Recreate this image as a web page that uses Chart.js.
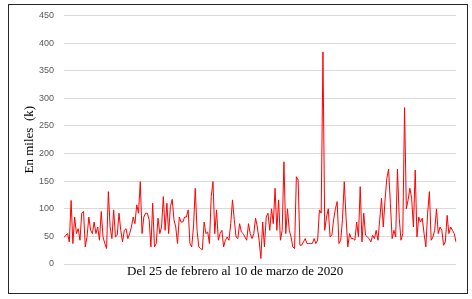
<!DOCTYPE html>
<html>
<head>
<meta charset="utf-8">
<script src="https://cdn.jsdelivr.net/npm/chart.js@4/dist/chart.umd.min.js"></script>
<style>
  body { margin: 0; background: #fff; }
  #wrap { position: relative; width: 472px; height: 299px; }
</style>
</head>
<body>
<div id="wrap"><canvas id="canvas1" width="472" height="299"></canvas></div>
<script>
// DONNEES (en miles, du 25 de febrero al 10 de marzo de 2020)
const valores = [
  48, 52, 55, 40, 115, 37, 85, 55, 64, 43, 92, 95, 31, 50, 85, 61, 55, 76, 55, 67,
  43, 95, 49, 37, 28, 131, 67, 46, 98, 49, 52, 92, 61, 40, 61, 64, 46, 55, 67, 85,
  73, 107, 92, 149, 55, 85, 92, 92, 80, 31, 110, 31, 37, 83, 55, 67, 122, 61, 110, 55,
  104, 117, 80, 67, 37, 85, 76, 76, 85, 85, 98, 37, 31, 67, 137, 61, 31, 28, 26, 76,
  55, 58, 37, 122, 149, 55, 98, 43, 55, 61, 31, 43, 49, 43, 73, 116, 80, 49, 46, 73,
  58, 55, 49, 43, 73, 55, 46, 55, 83, 67, 43, 10, 76, 31, 85, 92, 61, 100, 73, 137,
  61, 116, 43, 61, 185, 55, 100, 61, 49, 31, 28, 158, 152, 34, 34, 40, 46, 37, 37, 37,
  37, 46, 37, 43, 98, 92, 384, 61, 85, 100, 49, 52, 80, 100, 113, 37, 43, 80, 149, 85,
  31, 55, 46, 46, 43, 76, 49, 140, 40, 92, 52, 49, 46, 40, 52, 46, 61, 43, 80, 119,
  67, 116, 155, 172, 110, 46, 61, 49, 172, 83, 43, 55, 283, 100, 116, 137, 119, 67, 170, 49,
  85, 76, 83, 55, 31, 92, 131, 43, 49, 61, 100, 55, 67, 61, 34, 40, 88, 55, 67, 61,
  55, 40
];
const etiquetas = valores.map((v, i) => String(i + 1));
const ticksY = [0, 50, 100, 150, 200, 250, 300, 350, 400, 450];

const tituloY = 'En miles  (k)';
const tituloX = 'Del 25 de febrero al 10 de marzo de 2020';

// MARCO Y TITULO X
const marco = {
  id: 'marco',
  afterDraw(chart) {
    const ctx = chart.ctx;
    ctx.save();
    ctx.strokeStyle = '#262626';
    ctx.lineWidth = 1;
    ctx.strokeRect(8.5, 4.5, 459, 289);
    ctx.fillStyle = '#000';
    ctx.font = '13px "Liberation Serif", "DejaVu Serif", serif';
    ctx.textBaseline = 'middle';
    ctx.textAlign = 'left';
    ctx.fillText(tituloX, chart.chartArea.left + 63, chart.chartArea.bottom + 8);
    ctx.restore();
  }
};

let myChart1 = new Chart(document.getElementById('canvas1'), {
  type: 'line',
  data: {
    labels: etiquetas,
    datasets: [{
      data: valores,
      borderColor: '#ff0000',
      borderWidth: 1,
      pointRadius: 0,
      tension: 0,
      fill: false
    }]
  },
  options: {
    responsive: false,
    animation: false,
    layout: { padding: { left: 0, right: 16, top: 15, bottom: 35 } },
    plugins: {
      legend: { display: false },
      tooltip: { enabled: false }
    },
    scales: {
      x: {
        display: false
      },
      y: {
        min: 0,
        max: 450,
        afterFit(scale) { scale.width = 64; },
        afterBuildTicks(scale) { scale.ticks = ticksY.map(v => ({ value: v })); },
        border: { display: false },
        grid: { color: '#d9d9d9', drawTicks: false },
        ticks: {
          padding: 10,
          color: '#595959',
          font: { family: '"Liberation Sans", Arial, sans-serif', size: 9 }
        },
        title: {
          display: true,
          text: tituloY,
          color: '#000',
          padding: { top: 22, bottom: 0 },
          font: { family: '"Liberation Serif", "DejaVu Serif", serif', size: 13 }
        }
      }
    }
  },
  plugins: [marco]
});
</script>
</body>
</html>
